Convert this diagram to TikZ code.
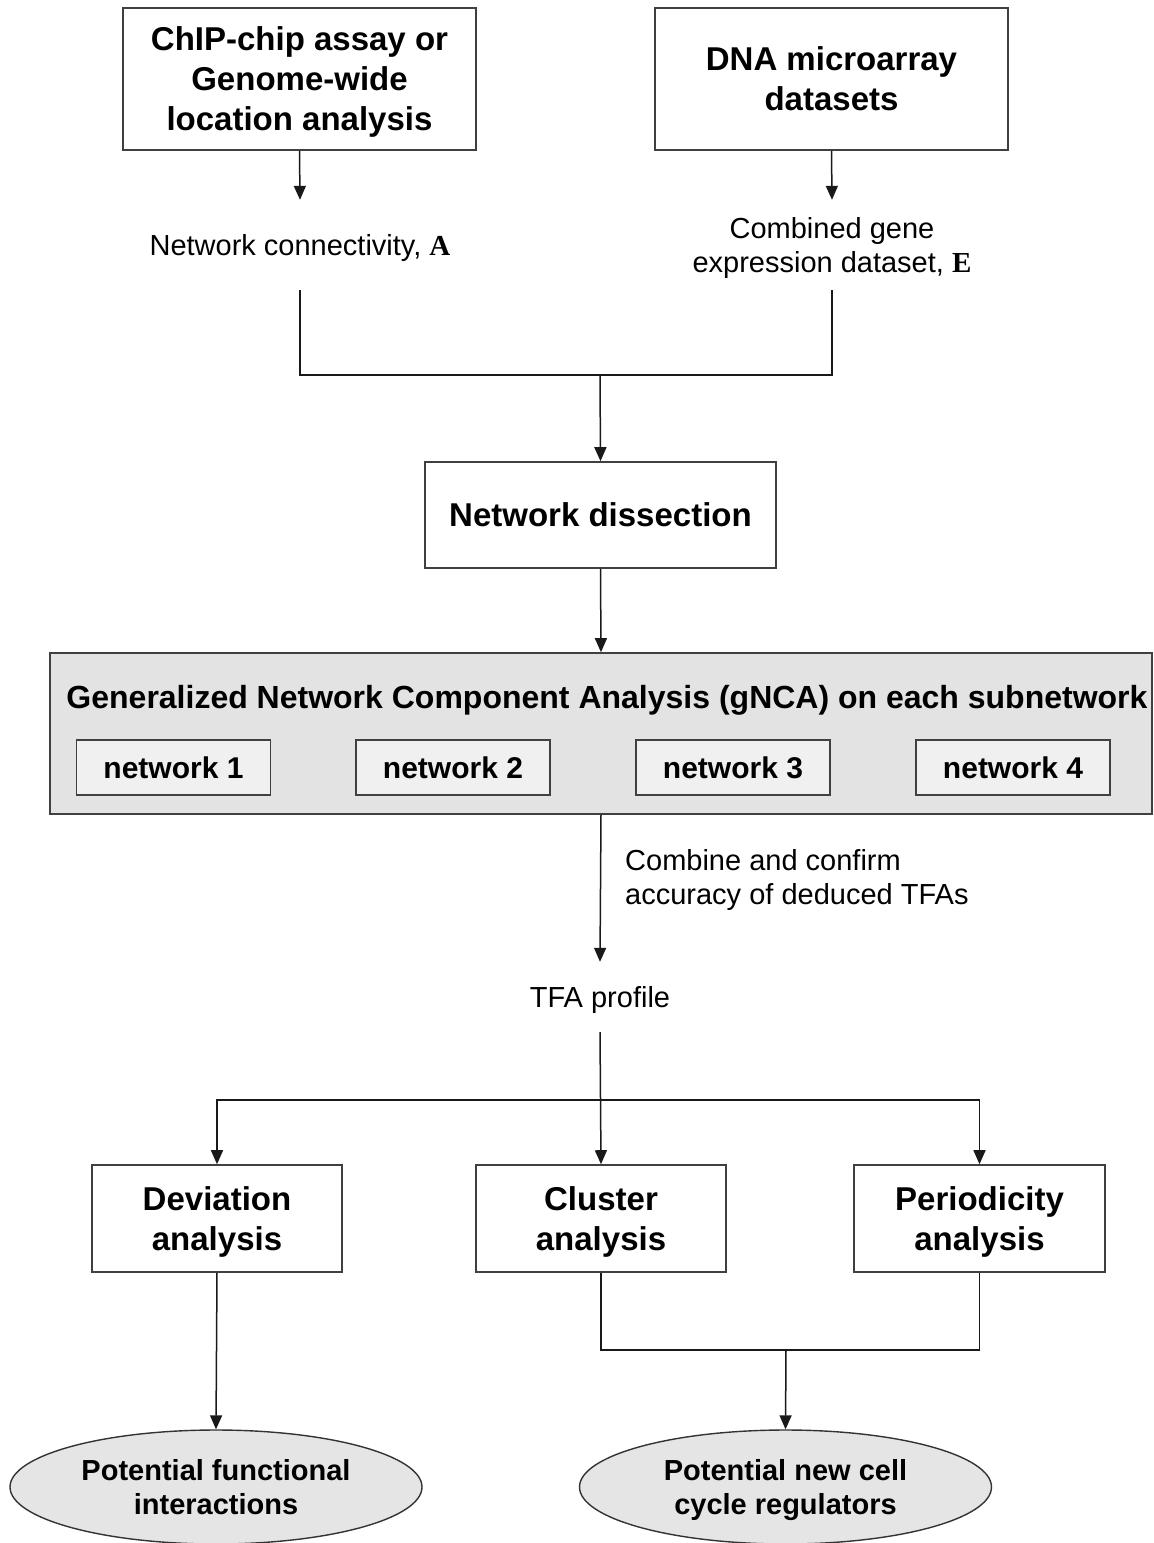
\documentclass[tikz,border=0pt]{standalone}
\usepackage{fontspec}
\setmainfont{Liberation Sans}
\newfontfamily\serifbf{Liberation Serif}
\usetikzlibrary{arrows.meta,shapes.geometric}
\begin{document}
\begin{tikzpicture}[x=1pt,y=-1pt,
  boxst/.style={draw=black!75,line width=1.6pt,minimum width=#1,inner sep=0pt,align=center,font=\fontsize{33}{40}\selectfont\bfseries,text depth=0pt},
  netst/.style={draw=black!75,line width=1.4pt,fill=black!6,minimum width=194pt,minimum height=55pt,inner sep=0pt,font=\fontsize{30}{36}\selectfont\bfseries,text height=21.5pt,text depth=0pt},
  ellst/.style={ellipse,draw=black!80,line width=1.4pt,fill=black!10,minimum width=412pt,minimum height=114pt,inner sep=0pt,align=center,font=\fontsize{29}{34}\selectfont\bfseries,text height=54.8pt,text depth=0pt},
  lbl/.style={inner sep=0pt,align=center,font=\fontsize{29}{34}\selectfont,text depth=0pt},
  ln/.style={line width=1.5pt,draw=black!90},
  arr/.style={ln,-{Triangle[length=14pt,width=12pt]}}]
\useasboundingbox (0,0) rectangle (1154,1543);
\fill[white] (0,0) rectangle (1154,1543);

\node[boxst=353pt,minimum height=142pt,text height=103.6pt] (chip) at (299.5,79) {ChIP-chip assay or\\Genome-wide\\location analysis};
\node[boxst=353pt,minimum height=142pt,text height=63.6pt] (dna) at (831.5,79) {DNA microarray\\datasets};

\node[lbl,minimum height=90pt,text height=20.8pt] (netA) at (300,245) {Network connectivity, {\serifbf\bfseries A}};
\node[lbl,minimum height=90pt,text height=54.8pt] (combE) at (832,245) {Combined gene\\expression dataset, {\serifbf\bfseries E}};

\draw[arr] (chip.south) -- (netA.north);
\draw[arr] (dna.south) -- (combE.north);

\coordinate (join) at (600,375);
\node[boxst=351pt,minimum height=106pt,text height=23.6pt] (dis) at (600.5,515) {Network dissection};
\draw[ln] (netA.south) |- (join) -| (combE.south);
\draw[arr] (join) -- (dis.north);

\node[draw=black!75,line width=1.6pt,fill=black!11,minimum width=1102pt,minimum height=161pt,inner sep=0pt] (gnca) at (601,733.5) {};
\node[inner sep=0pt,font=\fontsize{32}{38}\selectfont\bfseries,text height=22.9pt,text depth=0pt] (gtitle) at (607,697) {Generalized Network Component Analysis (gNCA) on each subnetwork};
\node[netst] (n1) at (173.5,767.5) {network 1};
\node[netst] (n2) at (453,767.5) {network 2};
\node[netst] (n3) at (733,767.5) {network 3};
\node[netst] (n4) at (1013,767.5) {network 4};
\draw[arr] (dis.south) -- (gnca.north);

\node[lbl,minimum height=70pt,text height=20.8pt] (tfa) at (600,997) {TFA profile};
\draw[arr] (gnca.south) -- (tfa.north);
\node[lbl,anchor=west,align=left,text height=54.8pt] (comb) at (625,877) {Combine and confirm\\accuracy of deduced TFAs};

\node[boxst=250pt,minimum height=107pt,text height=63.6pt] (dev) at (217,1218.5) {Deviation\\analysis};
\node[boxst=250pt,minimum height=107pt,text height=63.6pt] (clu) at (601,1218.5) {Cluster\\analysis};
\node[boxst=251pt,minimum height=107pt,text height=63.6pt] (per) at (979.5,1218.5) {Periodicity\\analysis};

\coordinate (br) at (600,1100);
\draw[arr] (tfa.south) -- (clu.north);
\draw[arr] (br) -| (dev.north);
\draw[arr] (br) -| (per.north);

\node[ellst] (pfi) at (216,1487) {Potential functional\\interactions};
\node[ellst] (pcc) at (785.5,1487) {Potential new cell\\cycle regulators};
\draw[arr] (dev.south) -- (pfi.north);
\coordinate (j2) at (786,1350);
\draw[ln] (clu.south) |- (j2) -| (per.south);
\draw[arr] (j2) -- (pcc.north);
\end{tikzpicture}
\end{document}
